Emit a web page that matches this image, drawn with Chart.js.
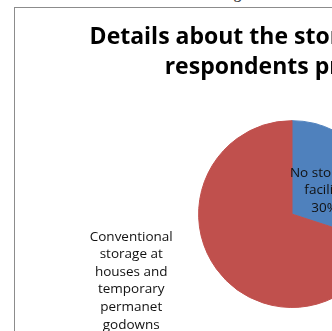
<!DOCTYPE html>
<html>
<head>
<meta charset="utf-8">
<script src="https://cdn.jsdelivr.net/npm/chart.js@4"></script>
<style>
  html, body { margin: 0; padding: 0; background: #fff; overflow: hidden; width: 332px; height: 331px; }
  #caption { position: absolute; left: 34px; top: -14px; font: bold 15px "Liberation Serif", serif; color: #444; white-space: nowrap; }
  #box { position: absolute; left: 14px; top: 7px; width: 554px; height: 340px; border: 1px solid #8c8c8c; background: #fff; }
</style>
</head>
<body>
<div id="caption">Table 5: Details about the storage facilities of the respondents</div>
<div id="box"><canvas id="pie1" width="554" height="340"></canvas></div>
<script>
var labels = ['No storage facility', 'Conventional storage at houses and temporary permanet godowns'];
var shares = [30, 70];
var colours = ['#4F81BD', '#C0504D'];
var titleLines = ['Details about the storage facility of', 'respondents premises'];

// wrap text into lines no wider than max
function wrap(ctx, text, max) {
	var words = text.split(' ');
	var lines = [];
	var cur = '';
	for (var i in words) {
		var test = cur ? cur + ' ' + words[i] : words[i];
		if (ctx.measureText(test).width > max && cur) {
			lines.push(cur);
			cur = words[i];
		} else {
			cur = test;
		}
	}
	if (cur) lines.push(cur);
	return lines;
}

var sliceLabels = {
	id: 'sliceLabels',
	afterDatasetsDraw: function(chart) {
		var ctx = chart.ctx;
		var meta = chart.getDatasetMeta(0);
		ctx.save();
		ctx.font = '13.5px "Open Sans", sans-serif';
		ctx.fillStyle = '#111';
		ctx.textAlign = 'center';
		ctx.textBaseline = 'middle';
		var lh = 17.6;
		meta.data.forEach(function(arc, i) {
			var p = arc.getProps(['x', 'y', 'startAngle', 'endAngle', 'outerRadius']);
			var mid = (p.startAngle + p.endAngle) / 2;
			var lines;
			var cx, cy;
			if (i == 0) {
				lines = wrap(ctx, labels[i], 80);
				lines.push(shares[i] + '%');
				cx = p.x + Math.cos(mid) * p.outerRadius * 0.43;
				cy = p.y + Math.sin(mid) * p.outerRadius * 0.43;
			} else {
				lines = wrap(ctx, labels[i], 95);
				lines.push(shares[i] + '%');
				var w = 0;
				lines.forEach(function(l) { w = Math.max(w, ctx.measureText(l).width); });
				var ax = p.x + Math.cos(mid) * p.outerRadius * 1.3;
				cy = p.y + Math.sin(mid) * p.outerRadius * 1.3 + 4;
				cx = ax - 21 - w / 2;
			}
			var top = cy - (lines.length - 1) * lh / 2;
			lines.forEach(function(l, k) {
				ctx.fillText(l, cx, top + k * lh);
			});
		});
		ctx.restore();
	}
};

var ctx = document.getElementById('pie1');
var pieChart = new Chart(ctx, {
	type: 'pie',
	data: {
		labels: labels,
		datasets: [{
			data: shares,
			backgroundColor: colours,
			borderColor: colours,
			borderWidth: 1
		}]
	},
	options: {
		responsive: false,
		animation: false,
		layout: { padding: { top: 0, bottom: 40 } },
		plugins: {
			legend: { display: false },
			tooltip: { enabled: false },
			title: {
				display: true,
				text: titleLines,
				color: '#000',
				font: { family: '"Open Sans", sans-serif', size: 23, weight: 'bold', lineHeight: 1.33 },
				padding: { top: 14, bottom: 37 }
			}
		}
	},
	plugins: [sliceLabels]
});
</script>
</body>
</html>
